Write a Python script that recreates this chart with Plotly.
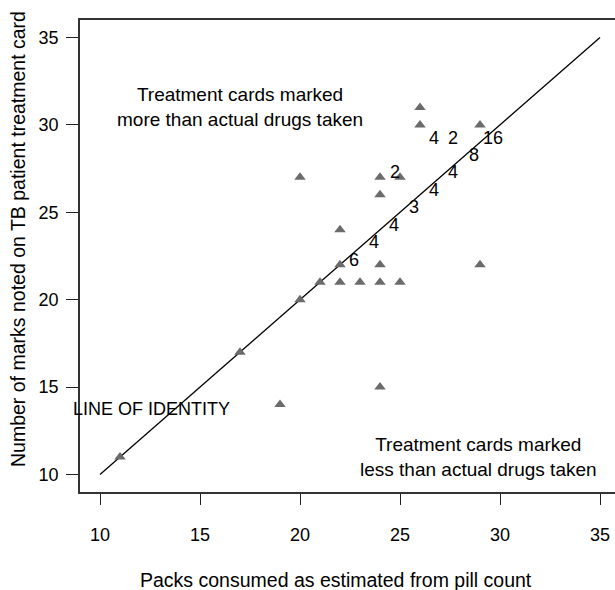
import plotly.graph_objects as go

# Data (triangles): packs from pill count (x) vs marks on treatment card (y)
pts_x = [11, 17, 19, 20, 20, 21, 22, 22, 22, 23, 24, 25, 24, 24, 24, 24, 25, 26, 26, 29, 29]
pts_y = [11, 17, 14, 27, 20, 21, 24, 22, 21, 21, 21, 21, 22, 27, 26, 15, 27, 31, 30, 30, 22]

# Count labels for coincident observations
lab_x = [22.7, 23.7, 24.7, 25.7, 26.7, 27.65, 28.7, 29.65, 26.7, 27.65, 24.75]
lab_y = [22.2, 23.2, 24.2, 25.2, 26.2, 27.2, 28.2, 29.15, 29.15, 29.15, 27.2]
lab_txt = ["6", "4", "4", "3", "4", "4", "8", "16", "4", "2", "2"]

# Line of identity
id_x = [10, 35]
id_y = [10, 35]

tick_vals = [10, 15, 20, 25, 30, 35]
FONT = "Liberation Sans, Arial, Helvetica, sans-serif"

fig = go.Figure()
fig.add_trace(go.Scatter(x=id_x, y=id_y, mode="lines",
                         line=dict(color="black", width=1.3), hoverinfo="skip"))
fig.add_trace(go.Scatter(x=pts_x, y=pts_y, mode="markers",
                         marker=dict(symbol="triangle-up", size=10, color="#6b6b6b",
                                     line=dict(width=0))))
fig.add_trace(go.Scatter(x=lab_x, y=lab_y, mode="text", text=lab_txt,
                         textfont=dict(family=FONT, size=18, color="black"),
                         textposition="middle center"))

fig.add_annotation(x=17, y=31, xref="x", yref="y", xanchor="center", yanchor="middle",
                   text="Treatment cards marked<br>more than actual drugs taken",
                   showarrow=False, font=dict(family=FONT, size=19, color="black"))
fig.add_annotation(x=28.9, y=11, xref="x", yref="y", xanchor="center", yanchor="middle",
                   text="Treatment cards marked<br>less than actual drugs taken",
                   showarrow=False, font=dict(family=FONT, size=19, color="black"))
fig.add_annotation(x=12.55, y=13.75, xref="x", yref="y", xanchor="center", yanchor="middle",
                   text="LINE OF IDENTITY",
                   showarrow=False, font=dict(family=FONT, size=18, color="black"))

# axis titles
fig.add_annotation(x=0, y=0.5, xref="paper", yref="paper", xanchor="center", yanchor="middle",
                   xshift=-62, yshift=17,
                   text="Number of marks noted on TB patient treatment card",
                   textangle=-90, showarrow=False,
                   font=dict(family=FONT, size=19.5, color="black"))
fig.add_annotation(x=0.5, y=0, xref="paper", yref="paper", xanchor="center", yanchor="middle",
                   yshift=-88, xshift=-12,
                   text="Packs consumed as estimated from pill count",
                   showarrow=False, font=dict(family=FONT, size=19.5, color="black"))

fig.update_layout(
    width=615, height=590, autosize=False,
    margin=dict(l=80, r=0, t=20, b=98),
    paper_bgcolor="white", plot_bgcolor="white",
    showlegend=False, hovermode=False,
    font=dict(family=FONT, size=18, color="black"),
)
fig.update_xaxes(range=[9, 35.75], tickvals=tick_vals, ticks="outside", ticklen=11,
                 tickwidth=1.3, tickcolor="#222", showgrid=False, zeroline=False,
                 showline=True, linecolor="#333", linewidth=1.5, mirror=True,
                 ticklabelstandoff=15, tickfont=dict(size=18))
fig.update_yaxes(range=[9, 36], tickvals=tick_vals, ticks="outside", ticklen=12,
                 tickwidth=1.3, tickcolor="#222", showgrid=False, zeroline=False,
                 showline=True, linecolor="#333", linewidth=1.5, mirror=False,
                 ticklabelstandoff=4, tickfont=dict(size=18))

fig.write_html(
    "out.html",
    config={"displayModeBar": False},
    post_script="document.body.style.margin='0';document.body.style.overflow='hidden';",
)
